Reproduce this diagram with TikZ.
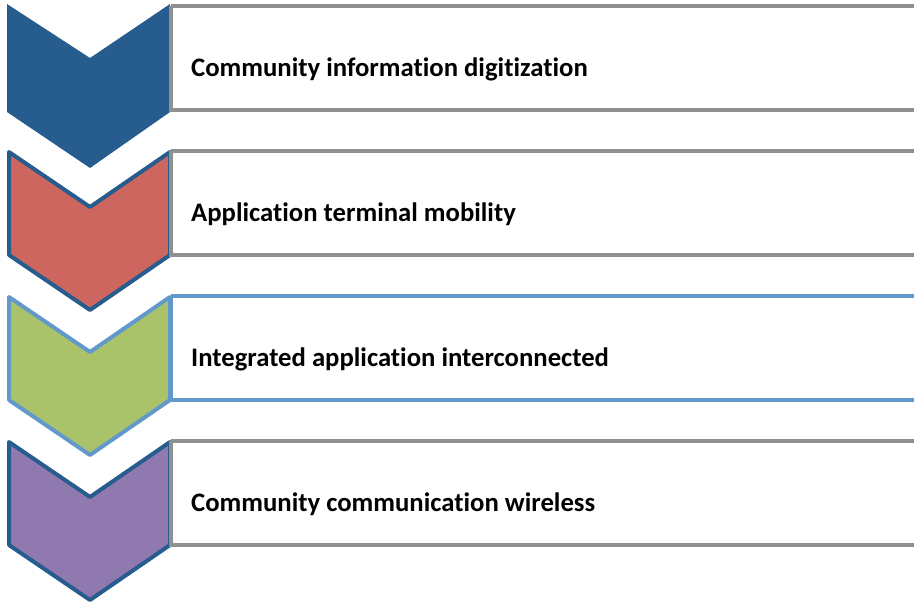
\documentclass[tikz,border=0pt]{standalone}
\usepackage{fontspec}
\setmainfont[Ligatures={NoCommon}]{Carlito}
\definecolor{cblue}{RGB}{38,92,142}
\definecolor{cred}{RGB}{204,102,94}
\definecolor{cgreen}{RGB}{170,195,107}
\definecolor{cpurple}{RGB}{143,121,174}
\definecolor{lblue}{RGB}{99,152,203}
\definecolor{bgrey}{RGB}{144,144,144}
\begin{document}
\begin{tikzpicture}[x=1pt,y=-1pt,
  chev/.style={line width=4pt,line join=round},
  tbox/.style={line width=4.5pt,fill=white},
  lab/.style={anchor=base west,inner sep=0pt,font=\fontsize{26.7}{30}\selectfont\bfseries}]
\useasboundingbox (0,0) rectangle (914,605);
% chevron 1
\fill[cblue,line join=round] (7,4) -- (90,58) -- (170,4) -- (170,112) -- (90,168) -- (7,112) -- cycle;
\draw[tbox,draw=bgrey] (171,6) -- (930,6) (930,110) -- (171,110) -- (171,6);
\node[lab] (t1) at (191,76) {Community information digitization};
% chevron 2
\draw[chev,draw=cblue,fill=cred] (9,152) -- (90,207) -- (170,152) -- (170,255) -- (90,310) -- (9,255) -- cycle;
\draw[tbox,draw=bgrey] (171,151) -- (930,151) (930,255) -- (171,255) -- (171,151);
\node[lab] (t2) at (191,221) {Application terminal mobility};
% chevron 3
\draw[chev,draw=lblue,fill=cgreen] (9,297) -- (90,352) -- (170,297) -- (170,400) -- (90,455) -- (9,400) -- cycle;
\draw[tbox,draw=lblue] (171,296) -- (930,296) (930,400) -- (171,400) -- (171,296);
\node[lab] (t3) at (191,366) {Integrated application interconnected};
% chevron 4
\draw[chev,draw=cblue,fill=cpurple] (9,442) -- (90,497) -- (170,442) -- (170,545) -- (90,600) -- (9,545) -- cycle;
\draw[tbox,draw=bgrey] (171,441) -- (930,441) (930,545) -- (171,545) -- (171,441);
\node[lab] (t4) at (191,511) {Community communication wireless};
\end{tikzpicture}
\end{document}
